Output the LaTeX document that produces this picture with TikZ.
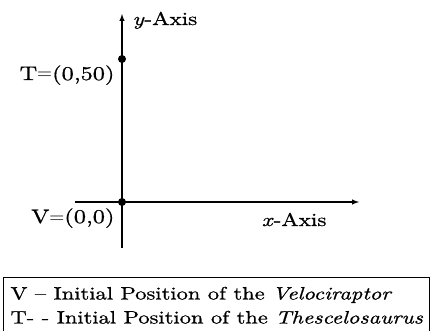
\documentclass[tikz,border=0pt]{standalone}
\usepackage{fontspec}
\setmainfont{lmroman10}[Extension=.otf,UprightFont=*-regular,BoldFont=*-bold,
    ItalicFont=*-italic,BoldItalicFont=*-bolditalic,FakeStretch=1.25,FakeBold=0.8]
\usetikzlibrary{positioning}
\begin{document}
\begin{tikzpicture}[x=1pt,y=1pt,font=\fontsize{19.5}{24}\selectfont,
    axis/.style={line width=1.4pt,-latex},
    dot/.style={circle,fill,inner sep=0pt,minimum size=8pt},
    coordlabel/.style={anchor=base east},
    axislabel/.style={font=\fontsize{18.5}{22}\selectfont},
    legendtext/.style={anchor=base west,font=\fontsize{18}{24}\selectfont}]

    \useasboundingbox (0,0) rectangle (434,330);

    % Ejes
    \coordinate (xstart) at (75,128);
    \coordinate (xend) at (359,128);
    \coordinate (ystart) at (122,82);
    \coordinate (yend) at (122,316);
    \draw[axis] (xstart) -- (xend);
    \draw[axis] (ystart) -- (yend);
    \node[axislabel,anchor=base east] (xlabel) at ([xshift=-29pt,yshift=-24pt]xend) {\textit{x}-Axis};
    \node[axislabel,anchor=base west] (ylabel) at ([xshift=7pt,yshift=-11pt]yend) {\textit{y}-Axis};

    % Posiciones iniciales
    \node[dot] (V) at (122,128) {};
    \node[dot] (T) at (122,271) {};
    \node[coordlabel] (Vlabel) at ([xshift=-4pt,yshift=-21pt]V.center) {V$=$(0,0)};
    \node[coordlabel] (Tlabel) at ([xshift=-4pt,yshift=-21pt]T.center) {T$=$(0,50)};

    % Leyenda
    \node[draw,line width=1.2pt,anchor=north west,minimum width=426pt,
        minimum height=70pt] (legend) at (3,53) {};
    \node[legendtext] (legendV) at ([xshift=4pt,yshift=-22.5pt]legend.north west)
        {V -- Initial Position of the \textit{Velociraptor}};
    \node[legendtext] (legendT) at ([yshift=-24pt]legendV.base west)
        {T- - Initial Position of the \textit{Thescelosaurus}};

\end{tikzpicture}
\end{document}
